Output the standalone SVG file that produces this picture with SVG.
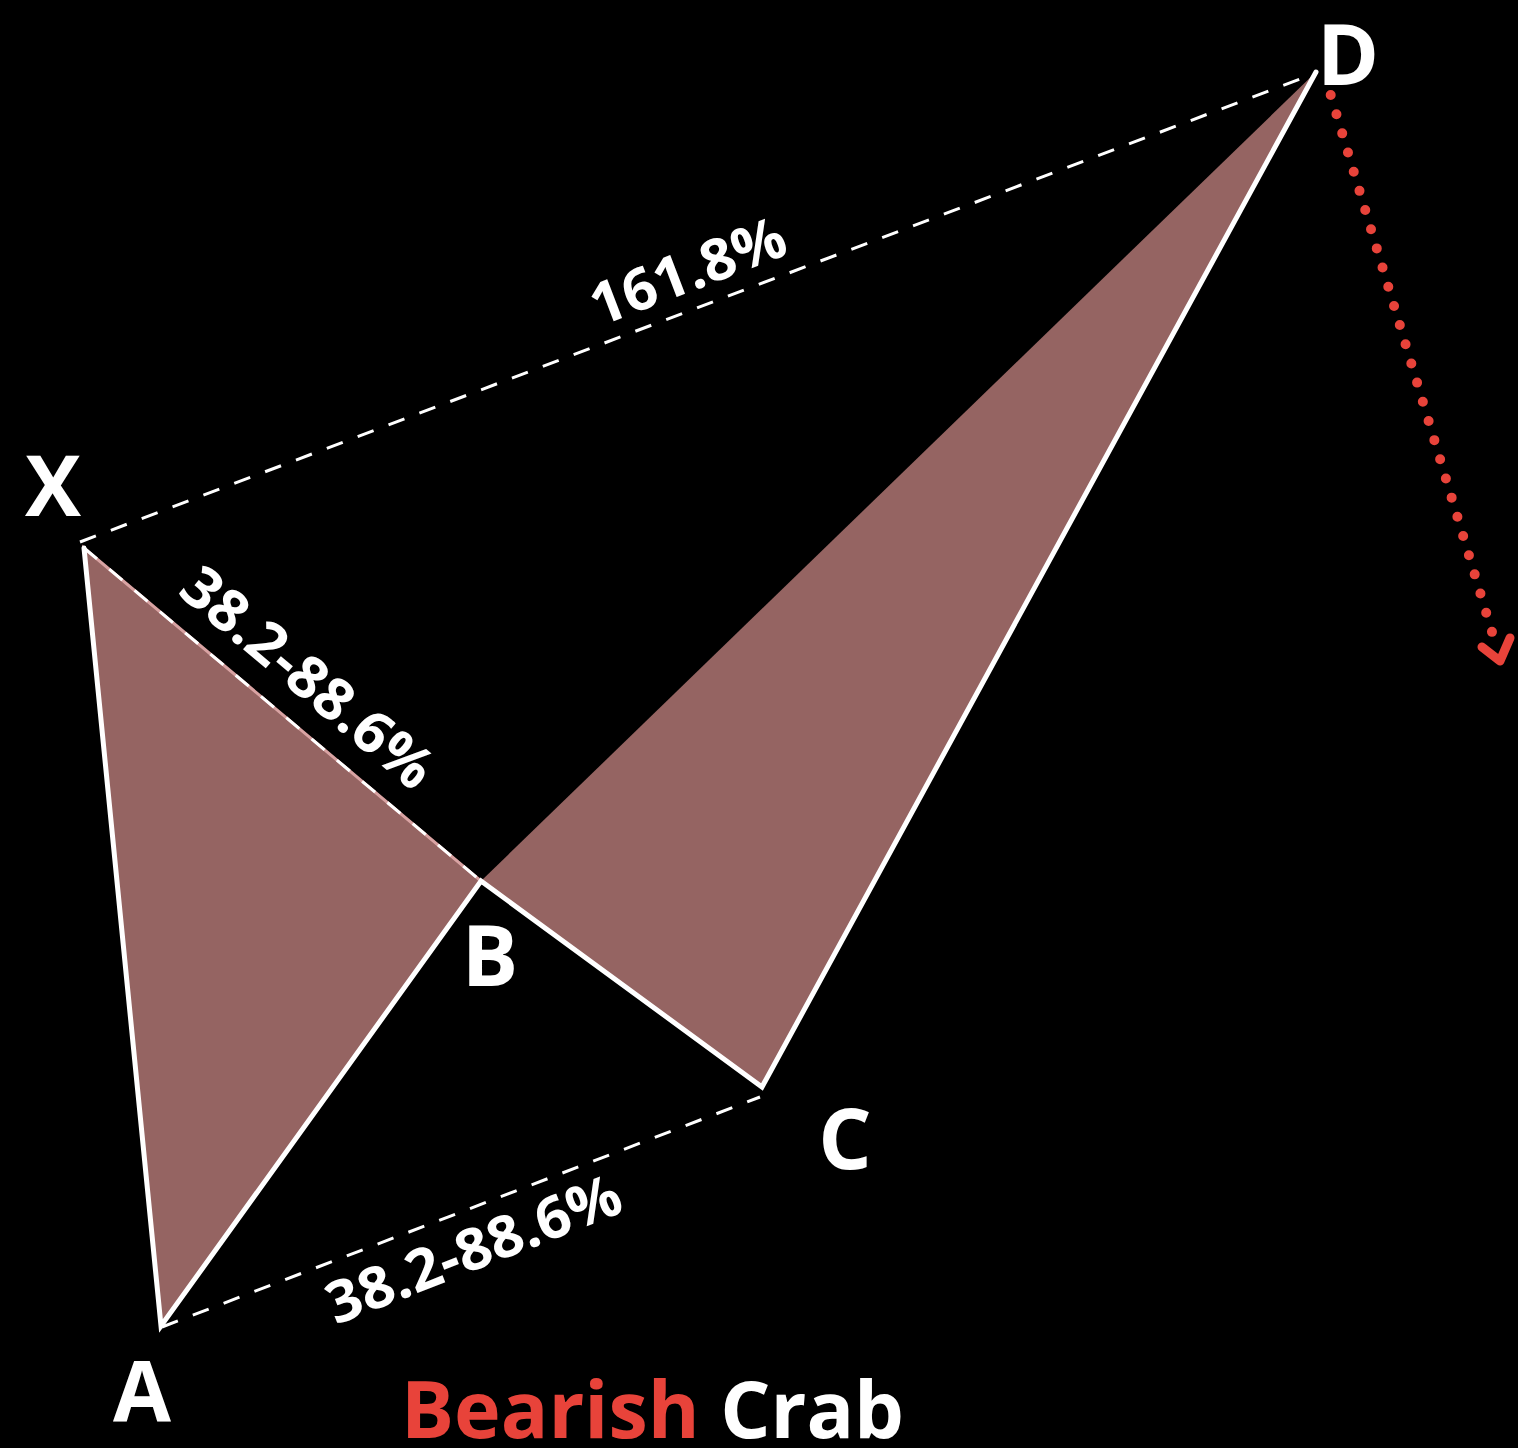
<svg xmlns="http://www.w3.org/2000/svg" width="1518" height="1448" viewBox="0 0 1518 1448">
<style>
.lbl{font-family:"Open Sans","Liberation Sans",sans-serif;font-weight:700;fill:#fff}
.pt{font-size:84px;text-anchor:middle}
.ratio{font-size:58px;text-anchor:middle}
.dash{stroke:#fff;stroke-width:3;stroke-dasharray:17 16;fill:none}
.leg{stroke:#fff;stroke-width:5;fill:none;stroke-linecap:round}
</style>
<rect width="1518" height="1448" fill="#000"/>
<g id="pattern-fill">
<polygon points="84,548 161,1326 481,881" fill="#956462" stroke="#d9a3a3" stroke-width="3"/>
<polygon points="481,881 762,1087 1316,72" fill="#956462"/>
</g>
<g id="connectors">
<line class="dash" x1="80" y1="542" x2="1316" y2="73"/>
<line class="dash" x1="84" y1="548" x2="481" y2="881"/>
<line class="dash" x1="162" y1="1327" x2="760" y2="1097"/>
<polyline class="leg" points="84,548 161,1326 481,881 762,1087 1316,72"/>
<path d="M1330.7,95 L1492,632" stroke="#e8433a" stroke-width="10" stroke-linecap="round" stroke-dasharray="0 20.02" fill="none"/>
<polyline points="1482,647 1500,661 1510,638" stroke="#e8433a" stroke-width="9" stroke-linecap="round" stroke-linejoin="round" fill="none"/>
</g>
<g id="node-X"><text class="lbl pt" x="53" y="516">X</text></g>
<g id="node-A"><text class="lbl pt" x="142" y="1421">A</text></g>
<g id="node-B"><text class="lbl pt" x="490" y="986">B</text></g>
<g id="node-C"><text class="lbl pt" x="845" y="1169">C</text></g>
<g id="node-D"><text class="lbl pt" x="1348" y="85">D</text></g>
<g id="ratio-XD"><text class="lbl ratio" x="695" y="290" transform="rotate(-21 695 290)" textLength="205" lengthAdjust="spacingAndGlyphs">161.8%</text></g>
<g id="ratio-XB"><text class="lbl ratio" x="295" y="693" transform="rotate(40 295 693)" textLength="310" lengthAdjust="spacingAndGlyphs">38.2-88.6%</text></g>
<g id="ratio-AC"><text class="lbl ratio" x="481" y="1268" transform="rotate(-21.5 481 1268)" textLength="312" lengthAdjust="spacingAndGlyphs">38.2-88.6%</text></g>
<g id="title"><text x="401" y="1438" font-family="'Open Sans','Liberation Sans',sans-serif" font-weight="700" font-size="79"><tspan fill="#e8433a">Bearish</tspan><tspan fill="#fff"> Crab</tspan></text></g>
</svg>
